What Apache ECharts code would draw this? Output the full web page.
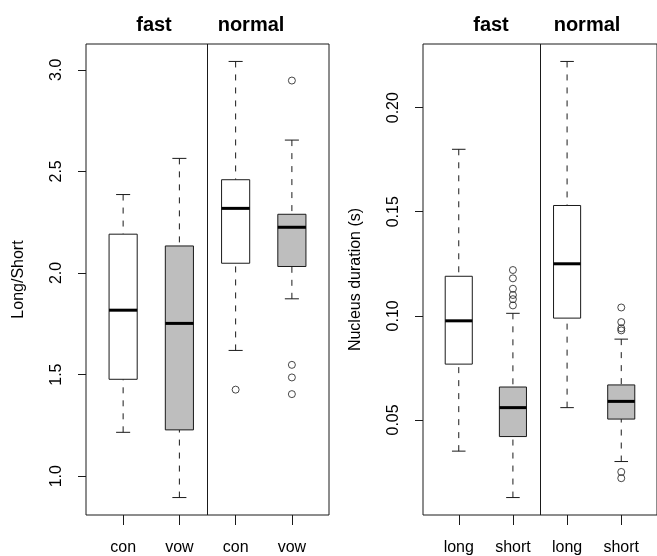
<!DOCTYPE html>
<html lang="en">
<head>
<meta charset="UTF-8">
<title>Boxplots</title>
<style>
  html, body { margin: 0; padding: 0; background: #fff; }
  #chart { width: 657px; height: 556px; }
</style>
</head>
<body>
<div id="chart"></div>
<script src="https://cdn.jsdelivr.net/npm/echarts@6/dist/echarts.min.js"></script>
<script>
// ---- data ----
var ratioCats = ['con', 'vow', 'con', 'vow'];
var durCats = ['long', 'short', 'long', 'short'];
var groupNames = ['fast', 'normal'];

// [lower whisker, Q1, median, Q3, upper whisker]
var ratioStats = [
  [1.216, 1.477, 1.817, 2.191, 2.386],
  [0.895, 1.228, 1.752, 2.133, 2.564],
  [1.619, 2.048, 2.318, 2.459, 3.041],
  [1.873, 2.032, 2.225, 2.289, 2.654]
];
var ratioOutliers = [[], [], [1.426], [2.947, 1.548, 1.486, 1.404]];

var durStats = [
  [0.035, 0.0768, 0.0976, 0.119, 0.180],
  [0.0127, 0.042, 0.0559, 0.0658, 0.1012],
  [0.0559, 0.0989, 0.125, 0.153, 0.2222],
  [0.030, 0.0504, 0.0589, 0.0668, 0.0888]
];
var durOutliers = [[], [0.122, 0.118, 0.113, 0.110, 0.108, 0.105], [], [0.104, 0.097, 0.094, 0.093, 0.025, 0.022]];

var ratioTicks = [1.0, 1.5, 2.0, 2.5, 3.0];
var durTicks = [0.05, 0.10, 0.15, 0.20];
var boxFills = ['#ffffff', '#bebebe', '#ffffff', '#bebebe'];

var FONT = '"Liberation Sans", Arial, Helvetica, sans-serif';
var INK = '#1a1a1a';

// R style 4% padding of the data range
function padRange(stats, outs) {
  var all = [];
  stats.forEach(function (s) { all = all.concat(s); });
  outs.forEach(function (o) { all = all.concat(o); });
  var lo = Math.min.apply(null, all), hi = Math.max.apply(null, all);
  var d = (hi - lo) * 0.04;
  return [lo - d, hi + d];
}

function boxData(stats) {
  return stats.map(function (s, i) { return [i + 1].concat(s).concat([i]); });
}
function outlierData(outs) {
  var res = [];
  outs.forEach(function (o, i) { o.forEach(function (v) { res.push([i + 1, v]); }); });
  return res;
}

function renderBox(params, api) {
  var x = api.value(0);
  var half = 0.25, staple = 0.125;
  var yLow = api.coord([x, api.value(1)])[1];
  var yQ1 = api.coord([x, api.value(2)])[1];
  var yMed = api.coord([x, api.value(3)])[1];
  var yQ3 = api.coord([x, api.value(4)])[1];
  var yHigh = api.coord([x, api.value(5)])[1];
  var cx = api.coord([x, api.value(3)])[0];
  var xl = api.coord([x - half, 0])[0];
  var xr = api.coord([x + half, 0])[0];
  var sl = api.coord([x - staple, 0])[0];
  var sr = api.coord([x + staple, 0])[0];
  var fill = boxFills[api.value(6)];
  var line = { stroke: INK, lineWidth: 1 };
  var dash = { stroke: INK, lineWidth: 1, lineDash: [6, 7] };
  return {
    type: 'group',
    children: [
      { type: 'line', shape: { x1: cx, y1: yHigh, x2: cx, y2: yQ3 }, style: dash },
      { type: 'line', shape: { x1: cx, y1: yLow, x2: cx, y2: yQ1 }, style: dash },
      { type: 'line', shape: { x1: sl, y1: yHigh, x2: sr, y2: yHigh }, style: line },
      { type: 'line', shape: { x1: sl, y1: yLow, x2: sr, y2: yLow }, style: line },
      { type: 'rect', shape: { x: xl, y: yQ3, width: xr - xl, height: yQ1 - yQ3 },
        style: { fill: fill, stroke: INK, lineWidth: 1 } },
      { type: 'line', shape: { x1: xl, y1: yMed, x2: xr, y2: yMed }, style: { stroke: '#000', lineWidth: 3 } }
    ]
  };
}

function xAxisFor(idx, cats) {
  return {
    type: 'value', gridIndex: idx, min: 0.34, max: 4.66,
    axisLine: { show: false },
    splitLine: { show: false },
    axisTick: { show: true, length: 10, customValues: [1, 2, 3, 4], lineStyle: { color: INK } },
    axisLabel: {
      customValues: [1, 2, 3, 4], margin: 25, color: '#000', fontSize: 16, fontFamily: FONT,
      formatter: function (v) { return cats[Math.round(v) - 1]; }
    }
  };
}

function yAxisFor(idx, range, ticks, digits, name) {
  return {
    type: 'value', gridIndex: idx, min: range[0], max: range[1],
    name: name, nameLocation: 'middle', nameGap: 59, nameRotate: 90,
    nameTextStyle: { color: '#000', fontSize: 16, fontFamily: FONT },
    axisLine: { show: false },
    splitLine: { show: false },
    axisTick: { show: true, length: 8, customValues: ticks, lineStyle: { color: INK } },
    axisLabel: {
      customValues: ticks, rotate: 90, margin: 21, color: '#000', fontSize: 16, fontFamily: FONT,
      formatter: function (v) { return v.toFixed(digits); }
    }
  };
}

var ratioRange = padRange(ratioStats, ratioOutliers);
var durRange = padRange(durStats, durOutliers);

var sepLine = {
  silent: true, symbol: 'none', label: { show: false },
  lineStyle: { color: INK, width: 1, type: 'solid' },
  data: [{ xAxis: 2.5 }]
};

var outlierStyle = { color: 'rgba(0,0,0,0)', borderColor: INK, borderWidth: 1 };

var chart = echarts.init(document.getElementById('chart'), null, { renderer: 'canvas' });
chart.setOption({
  backgroundColor: '#ffffff',
  animation: false,
  grid: [
    { left: 86, top: 44, width: 243, height: 472, show: true, borderColor: INK, borderWidth: 1, backgroundColor: 'transparent' },
    { left: 423, top: 44, width: 243, height: 472, show: true, borderColor: INK, borderWidth: 1, backgroundColor: 'transparent' }
  ],
  xAxis: [xAxisFor(0, ratioCats), xAxisFor(1, durCats)],
  yAxis: [
    yAxisFor(0, ratioRange, ratioTicks, 1, 'Long/Short'),
    yAxisFor(1, durRange, durTicks, 2, 'Nucleus duration (s)')
  ],
  graphic: [
    { type: 'text', x: 154, y: 25, style: { text: groupNames[0], font: 'bold 20px ' + FONT, fill: '#000', textAlign: 'center', textVerticalAlign: 'middle' } },
    { type: 'text', x: 251, y: 25, style: { text: groupNames[1], font: 'bold 20px ' + FONT, fill: '#000', textAlign: 'center', textVerticalAlign: 'middle' } },
    { type: 'text', x: 491, y: 25, style: { text: groupNames[0], font: 'bold 20px ' + FONT, fill: '#000', textAlign: 'center', textVerticalAlign: 'middle' } },
    { type: 'text', x: 587, y: 25, style: { text: groupNames[1], font: 'bold 20px ' + FONT, fill: '#000', textAlign: 'center', textVerticalAlign: 'middle' } }
  ],
  series: [
    { type: 'custom', xAxisIndex: 0, yAxisIndex: 0, renderItem: renderBox, data: boxData(ratioStats), silent: true },
    { type: 'custom', xAxisIndex: 1, yAxisIndex: 1, renderItem: renderBox, data: boxData(durStats), silent: true },
    { type: 'scatter', xAxisIndex: 0, yAxisIndex: 0, symbol: 'circle', symbolSize: 7,
      itemStyle: outlierStyle, data: outlierData(ratioOutliers), markLine: sepLine },
    { type: 'scatter', xAxisIndex: 1, yAxisIndex: 1, symbol: 'circle', symbolSize: 7,
      itemStyle: outlierStyle, data: outlierData(durOutliers), markLine: sepLine }
  ]
});
</script>
</body>
</html>
